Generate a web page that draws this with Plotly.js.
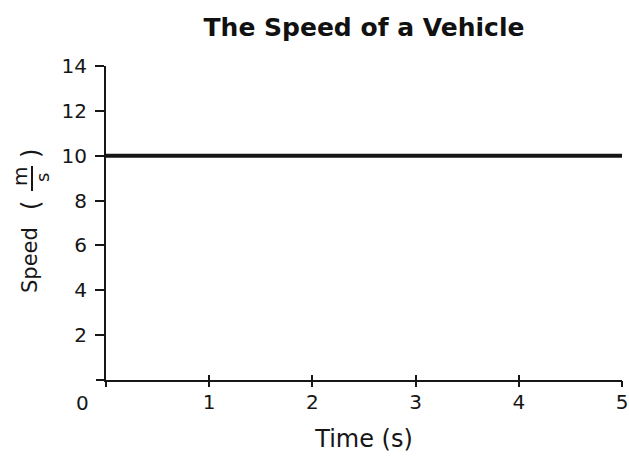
<!DOCTYPE html>
<html>
<head>
<meta charset="utf-8">
<script src="https://cdn.plot.ly/plotly-3.0.1.min.js"></script>
<style>html,body{margin:0;padding:0;background:#fff;}#chart{width:629px;height:457px;}</style>
</head>
<body>
<div id="chart"></div>
<script>
const timeS = [0, 1, 2, 3, 4, 5];
const speedMS = [10, 10, 10, 10, 10, 10];
const xTickVals = [1, 2, 3, 4, 5];
const xTickText = ['1', '2', '3', '4', '5'];
const yTickVals = [2, 4, 6, 8, 10, 12, 14];
const yTickText = ['2', '4', '6', '8', '10', '12', '14'];

const FONT = 'DejaVu Sans, Liberation Sans, Arial, sans-serif';
const INK = '#161616';
const L = 106, R = 622, T = 66, B = 380, W = 629, H = 457;
const px = x => (x - L) / (R - L);
const py = y => (B - y) / (B - T);

const data = [
  {x: timeS, y: speedMS, type: 'scatter', mode: 'lines', line: {color: INK, width: 4}, hoverinfo: 'skip', cliponaxis: false},
  {x: timeS, y: speedMS, xaxis: 'x2', type: 'scatter', mode: 'lines', line: {color: 'rgba(0,0,0,0)', width: 0}, hoverinfo: 'skip', showlegend: false}
];

const layout = {
  width: W, height: H,
  margin: {l: L, r: W - R, t: T, b: H - B, pad: 0},
  paper_bgcolor: '#fff', plot_bgcolor: '#fff',
  showlegend: false,
  font: {family: FONT, size: 20, color: INK},
  title: {text: 'The Speed of a Vehicle', font: {family: FONT, size: 25, color: '#111', weight: 'bold'}, xref: 'paper', x: 0.5, xanchor: 'center', y: 1 - 27 / H, yanchor: 'middle'},
  xaxis: {
    range: [0, 5], tickvals: xTickVals, ticktext: xTickText,
    ticks: 'inside', ticklen: 5, tickwidth: 2, tickcolor: INK, ticklabelstandoff: 3,
    showline: true, linecolor: INK, linewidth: 2, showgrid: false, zeroline: false,
    tickfont: {family: FONT, size: 20, color: INK},
    title: {text: 'Time (s)', font: {family: FONT, size: 24, color: INK}, standoff: 17}
  },
  xaxis2: {
    range: [0, 5], overlaying: 'x', anchor: 'y', side: 'bottom', tickvals: [0].concat(xTickVals),
    ticks: 'outside', ticklen: 6, tickwidth: 2, tickcolor: INK,
    showticklabels: false, showline: false, showgrid: false, zeroline: false
  },
  yaxis: {
    range: [0, 14], tickvals: yTickVals, ticktext: yTickText,
    ticks: 'outside', ticklen: 9, tickwidth: 2, tickcolor: INK, ticklabelstandoff: 4,
    showline: true, linecolor: INK, linewidth: 2, showgrid: false, zeroline: false,
    tickfont: {family: FONT, size: 20, color: INK}
  },
  shapes: [
    {type: 'line', xref: 'paper', yref: 'paper', x0: px(96), x1: 0, y0: 0, y1: 0, line: {color: INK, width: 2}},
    {type: 'line', xref: 'paper', yref: 'paper', x0: 0, x1: 0, y0: py(380), y1: py(385), line: {color: INK, width: 2}},
    {type: 'line', xref: 'paper', yref: 'paper', x0: px(32), x1: px(32), y0: py(166), y1: py(191), line: {color: INK, width: 2}}
  ],
  annotations: [
    {text: '0', xref: 'paper', yref: 'paper', x: px(82), y: py(403), xanchor: 'center', yanchor: 'middle', showarrow: false, font: {family: FONT, size: 20, color: INK}},
    {text: 'Speed', xref: 'paper', yref: 'paper', x: px(30), y: py(260), xanchor: 'center', yanchor: 'middle', textangle: -90, showarrow: false, font: {family: FONT, size: 21, color: INK}},
    {text: '(', xref: 'paper', yref: 'paper', x: px(31), y: py(206), xanchor: 'center', yanchor: 'middle', textangle: -90, showarrow: false, font: {family: FONT, size: 24, color: INK}},
    {text: 'm', xref: 'paper', yref: 'paper', x: px(20), y: py(177), xanchor: 'center', yanchor: 'middle', textangle: -90, showarrow: false, font: {family: FONT, size: 20, color: INK}},
    {text: 's', xref: 'paper', yref: 'paper', x: px(42), y: py(178), xanchor: 'center', yanchor: 'middle', textangle: -90, showarrow: false, font: {family: FONT, size: 18, color: INK}},
    {text: ')', xref: 'paper', yref: 'paper', x: px(31), y: py(154), xanchor: 'center', yanchor: 'middle', textangle: -90, showarrow: false, font: {family: FONT, size: 24, color: INK}}
  ]
};

Plotly.newPlot('chart', data, layout, {staticPlot: true, displayModeBar: false});
</script>
</body>
</html>
